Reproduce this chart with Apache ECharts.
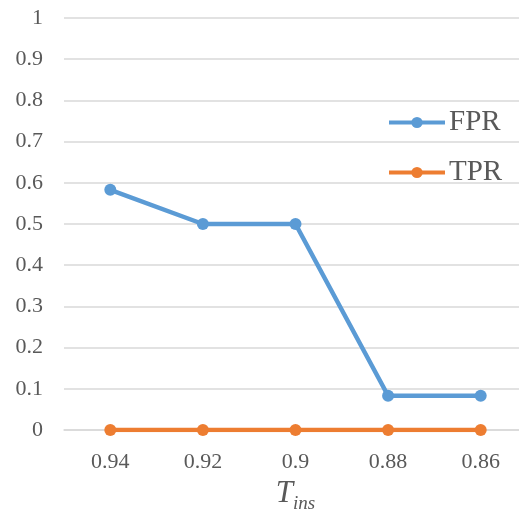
<!DOCTYPE html>
<html>
<head>
<meta charset="utf-8">
<style>
  html, body { margin: 0; padding: 0; background: #fff; overflow: hidden; }
  #chart { width: 519px; height: 511px; }
</style>
<script src="https://cdn.jsdelivr.net/npm/echarts@6/dist/echarts.min.js"></script>
</head>
<body>
<div id="chart"></div>
<script>
// Threshold values on the horizontal axis
const thresholds = ['0.94', '0.92', '0.9', '0.88', '0.86'];
// False positive rate at each threshold
const fprValues = [0.583, 0.5, 0.5, 0.083, 0.083];
// True positive rate at each threshold
const tprValues = [0, 0, 0, 0, 0];

const textColor = '#595959';
const gridColor = '#D9D9D9';
const serif = '"Liberation Serif", "Times New Roman", serif';

const chart = echarts.init(document.getElementById('chart'), null, { renderer: 'canvas' });

chart.setOption({
  backgroundColor: '#ffffff',
  animation: false,
  textStyle: { fontFamily: serif, color: textColor },
  // the plot area runs past the right edge of the canvas, so keep it from being shrunk to fit
  grid: { left: 64, top: 18, bottom: 81, width: 463, containLabel: false, outerBoundsMode: 'none' },
  legend: {
    orient: 'vertical',
    left: 387,
    top: 108,
    padding: 0,
    itemGap: 21,
    itemWidth: 56,
    itemHeight: 14,
    lineStyle: { width: 4 },
    textStyle: { fontFamily: serif, fontSize: 29, color: textColor, padding: [0, 0, 0, -1] },
    data: ['FPR', 'TPR']
  },
  xAxis: {
    type: 'category',
    data: thresholds,
    boundaryGap: true,
    axisLine: { show: true, lineStyle: { color: gridColor, width: 1.5 } },
    axisTick: { show: false },
    axisLabel: { fontFamily: serif, fontSize: 22, color: textColor, margin: 21 },
    name: '{t|T}{s|ins}',
    nameLocation: 'middle',
    nameGap: 41,
    nameTextStyle: {
      rich: {
        t: { fontFamily: serif, fontStyle: 'italic', fontSize: 31, color: textColor, verticalAlign: 'bottom' },
        s: { fontFamily: serif, fontStyle: 'italic', fontSize: 19, color: textColor, verticalAlign: 'bottom', padding: [0, 0, -5, 0] }
      }
    }
  },
  yAxis: {
    type: 'value',
    min: 0,
    max: 1,
    interval: 0.1,
    axisLine: { show: false },
    axisTick: { show: false },
    axisLabel: { fontFamily: serif, fontSize: 22, color: textColor, margin: 21 },
    splitLine: { show: true, lineStyle: { color: gridColor, width: 1.5 } }
  },
  series: [
    {
      name: 'FPR',
      type: 'line',
      data: fprValues,
      symbol: 'circle',
      symbolSize: 12,
      lineStyle: { color: '#5B9BD5', width: 4.5 },
      itemStyle: { color: '#5B9BD5' }
    },
    {
      name: 'TPR',
      type: 'line',
      data: tprValues,
      symbol: 'circle',
      symbolSize: 12,
      lineStyle: { color: '#ED7D31', width: 4.5 },
      itemStyle: { color: '#ED7D31' }
    }
  ]
});
</script>
</body>
</html>
